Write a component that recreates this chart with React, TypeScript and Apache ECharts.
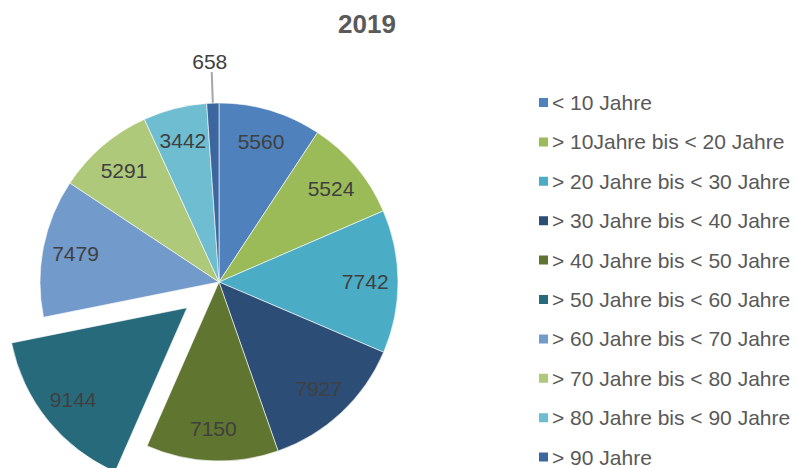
import React, { useEffect, useRef } from "react";
import * as echarts from "echarts";

const titleText = "2019";
const categories = [
  "< 10 Jahre",
  "> 10Jahre bis < 20 Jahre",
  "> 20 Jahre bis < 30 Jahre",
  "> 30 Jahre bis < 40 Jahre",
  "> 40 Jahre bis < 50 Jahre",
  "> 50 Jahre bis < 60 Jahre",
  "> 60 Jahre bis < 70 Jahre",
  "> 70 Jahre bis < 80 Jahre",
  "> 80 Jahre bis < 90 Jahre",
  "> 90 Jahre",
];
const values = [5560, 5524, 7742, 7927, 7150, 9144, 7479, 5291, 3442, 658];
const colors = [
  "#4F81BD",
  "#9BBB59",
  "#4BACC6",
  "#2C4D75",
  "#5F7530",
  "#276A7C",
  "#729ACA",
  "#AFC97A",
  "#6FBDD1",
  "#3B679E",
];
const explodedIndex = 5;
const outsideLabelIndex = 9;

const FONT = "'Liberation Sans', Arial, sans-serif";
const CENTER = [219, 282];
const R = 179;

export default function App() {
  const ref = useRef<HTMLDivElement>(null);
  useEffect(() => {
    if (!ref.current) return;
    const chart = echarts.init(ref.current, null, { renderer: "svg" });
    const dataA = values.map((v, i) => ({
      name: categories[i],
      value: v,
      selected: i === explodedIndex,
      itemStyle: { color: colors[i] },
      label:
        i === outsideLabelIndex
          ? {
              show: true,
              position: "outside",
              formatter: "{c}",
              color: "#404040",
              fontSize: 21,
              fontFamily: FONT,
              distanceToLabelLine: 2,
            }
          : { show: false },
      labelLine:
        i === outsideLabelIndex
          ? { show: true, length: 31, length2: 0, lineStyle: { color: "#A6A6A6", width: 2 } }
          : { show: false },
    }));
    const dataB = values.map((v, i) => ({
      name: categories[i],
      value: v,
      selected: i === explodedIndex,
      label: { show: i !== outsideLabelIndex },
    }));
    chart.setOption({
      animation: false,
      backgroundColor: "#ffffff",
      title: {
        text: titleText,
        left: 338,
        top: 11,
        padding: 0,
        textStyle: { fontSize: 26, fontWeight: "bold", color: "#595959", fontFamily: FONT },
      },
      legend: {
        orient: "vertical",
        left: 537,
        top: 92,
        height: 420,
        padding: 0,
        itemWidth: 11,
        itemHeight: 11,
        itemGap: 18.4,
        icon: "rect",
        selectedMode: false,
        data: categories,
        textStyle: { fontSize: 21, color: "#595959", fontFamily: FONT, padding: [0, 0, 0, -2] },
      },
      series: [
        {
          type: "pie",
          center: CENTER,
          radius: [0, R],
          startAngle: 90,
          clockwise: true,
          selectedMode: "single",
          selectedOffset: 41,
          avoidLabelOverlap: false,
          emphasis: { disabled: true },
          itemStyle: { borderColor: "#ffffff", borderWidth: 0.6 },
          labelLayout: (params: any) =>
            params.dataIndex === outsideLabelIndex ? { align: "center", verticalAlign: "bottom" } : {},
          data: dataA,
        },
        {
          type: "pie",
          center: CENTER,
          radius: [R * 0.6, R],
          startAngle: 90,
          clockwise: true,
          silent: true,
          selectedMode: "single",
          selectedOffset: 41,
          avoidLabelOverlap: false,
          emphasis: { disabled: true },
          itemStyle: { color: "rgba(0,0,0,0)" },
          label: {
            position: "inside",
            formatter: "{c}",
            color: "#404040",
            fontSize: 21,
            fontFamily: FONT,
          },
          labelLine: { show: false },
          data: dataB,
        },
      ],
    });
    return () => chart.dispose();
  }, []);
  return (
    <div
      ref={ref}
      style={{ position: "fixed", left: 0, top: 0, width: 796, height: 468 }}
    />
  );
}
